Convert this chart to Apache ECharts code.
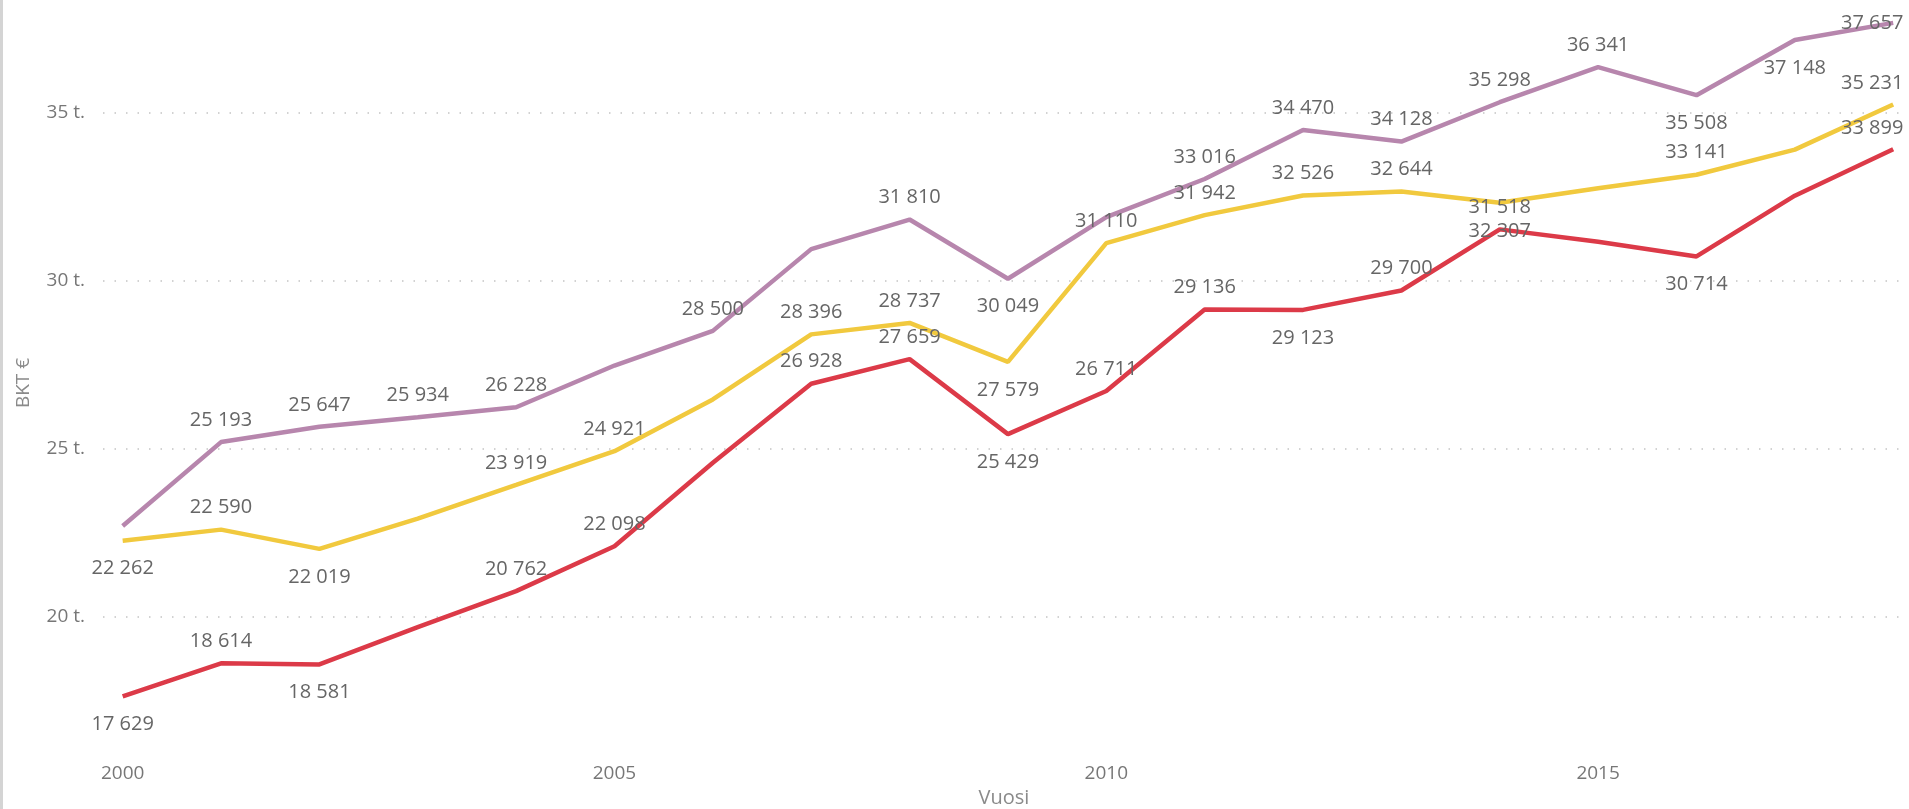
<!DOCTYPE html>
<html>
<head>
<meta charset="utf-8">
<style type="text/css">
	* {
		margin: 0;
		padding: 0;
	}
	#chart {
		width: 1909px;
		height: 809px;
	}
</style>
<script type="text/javascript" src="https://cdn.jsdelivr.net/npm/echarts@6.0.0/dist/echarts.min.js"></script>
</head>
<body>
<div id="chart"></div>
<script type="text/javascript">
var years = [2000, 2001, 2002, 2003, 2004, 2005, 2006, 2007, 2008, 2009,
             2010, 2011, 2012, 2013, 2014, 2015, 2016, 2017, 2018];

// BKT € per vuosi
var purpleValues = [22700, 25193, 25647, 25934, 26228, 27470, 28500, 30930, 31810, 30049,
                    31880, 33016, 34470, 34128, 35298, 36341, 35508, 37148, 37657];
var yellowValues = [22262, 22590, 22019, 22920, 23919, 24921, 26460, 28396, 28737, 27579,
                    31110, 31942, 32526, 32644, 32307, 32740, 33141, 33890, 35231];
var redValues    = [17629, 18614, 18581, 19690, 20762, 22098, 24580, 26928, 27659, 25429,
                    26711, 29136, 29123, 29700, 31518, 31150, 30714, 32520, 33899];

var yTicks = [20000, 25000, 30000, 35000];
var xTicks = [2000, 2005, 2010, 2015];

// where each value label goes: t = above, b = below, e = end (shifted left), '' = none
var purpleLabels = ['', 't', 't', 't', 't', '', 't', '', 't', 'b', '', 't', 't', 't', 't', 't', 'b', 'b', 'e'];
var yellowLabels = ['b', 't', 'b', '', 't', 't', '', 't', 't', 'b', 't', 't', 't', 't', 'b', '', 't', '', 'et'];
var redLabels    = ['b', 't', 'b', '', 't', 't', '', 't', 't', 'b', 't', 't', 'b', 't', 't', '', 'b', '', 'et'];

function fmt(v) {
    return String(v).replace(/\B(?=(\d{3})+(?!\d))/g, ' ');
}

function buildData(values, labels) {
    return values.map(function (v, i) {
        var p = labels[i];
        var label = {show: p !== ''};
        if (p === 't') { label.position = 'top'; label.distance = 12; }
        if (p === 'b') { label.position = 'bottom'; label.distance = 18; }
        if (p === 'e') { label.position = 'inside'; label.offset = [-21, 0]; }
        if (p === 'et') { label.position = 'top'; label.distance = 11; label.offset = [-21, 0]; }
        return {value: [years[i], v], label: label};
    });
}

function lineSeries(name, color, values, labels) {
    return {
        name: name,
        type: 'line',
        data: buildData(values, labels),
        symbol: 'circle',
        symbolSize: 0,
        showSymbol: true,
        lineStyle: {color: color, width: 4.5},
        itemStyle: {color: color},
        label: {
            color: '#666',
            fontSize: 20,
            fontFamily: 'Open Sans',
            formatter: function (p) { return fmt(p.value[1]); }
        },
        emphasis: {disabled: true},
        z: 2
    };
}

var chart = echarts.init(document.getElementById('chart'));

var option = {
    animation: false,
    backgroundColor: '#fff',
    textStyle: {fontFamily: 'Open Sans'},
    graphic: [{
        type: 'rect',
        left: 0,
        top: 0,
        shape: {width: 3, height: 809},
        style: {fill: '#d4d4d4'}
    }],
    grid: {left: 103, right: 4, top: 8, bottom: 51, outerBoundsMode: 'none'},
    xAxis: {
        type: 'value',
        min: 1999.8,
        max: 2018.12,
        minInterval: 5,
        maxInterval: 5,
        name: 'Vuosi',
        nameLocation: 'middle',
        nameGap: 30,
        nameTextStyle: {color: '#8a8a8a', fontSize: 20},
        axisLine: {show: false},
        axisTick: {show: false},
        splitLine: {show: false},
        axisLabel: {
            color: '#777',
            fontSize: 19,
            margin: 6,
            showMinLabel: false,
            showMaxLabel: false,
            formatter: function (v) { return xTicks.indexOf(v) >= 0 ? String(v) : ''; }
        }
    },
    yAxis: {
        type: 'value',
        min: 15800,
        max: 38100,
        minInterval: 5000,
        maxInterval: 5000,
        name: 'BKT €',
        nameLocation: 'middle',
        nameGap: 70,
        nameTextStyle: {color: '#8a8a8a', fontSize: 19},
        axisLine: {show: false},
        axisTick: {show: false},
        axisLabel: {
            color: '#777',
            fontSize: 19,
            margin: 18,
            showMinLabel: false,
            showMaxLabel: false,
            formatter: function (v) { return yTicks.indexOf(v) >= 0 ? (v / 1000) + ' t.' : ''; }
        },
        splitLine: {
            show: true,
            showMinLine: false,
            showMaxLine: false,
            lineStyle: {color: '#c4c4c4', width: 1.5, type: [1.5, 10]}
        }
    },
    series: [
        lineSeries('Purple', '#b786ad', purpleValues, purpleLabels),
        lineSeries('Yellow', '#f1c93e', yellowValues, yellowLabels),
        lineSeries('Red', '#dc3a48', redValues, redLabels)
    ]
};

chart.setOption(option);
</script>
</body>
</html>
